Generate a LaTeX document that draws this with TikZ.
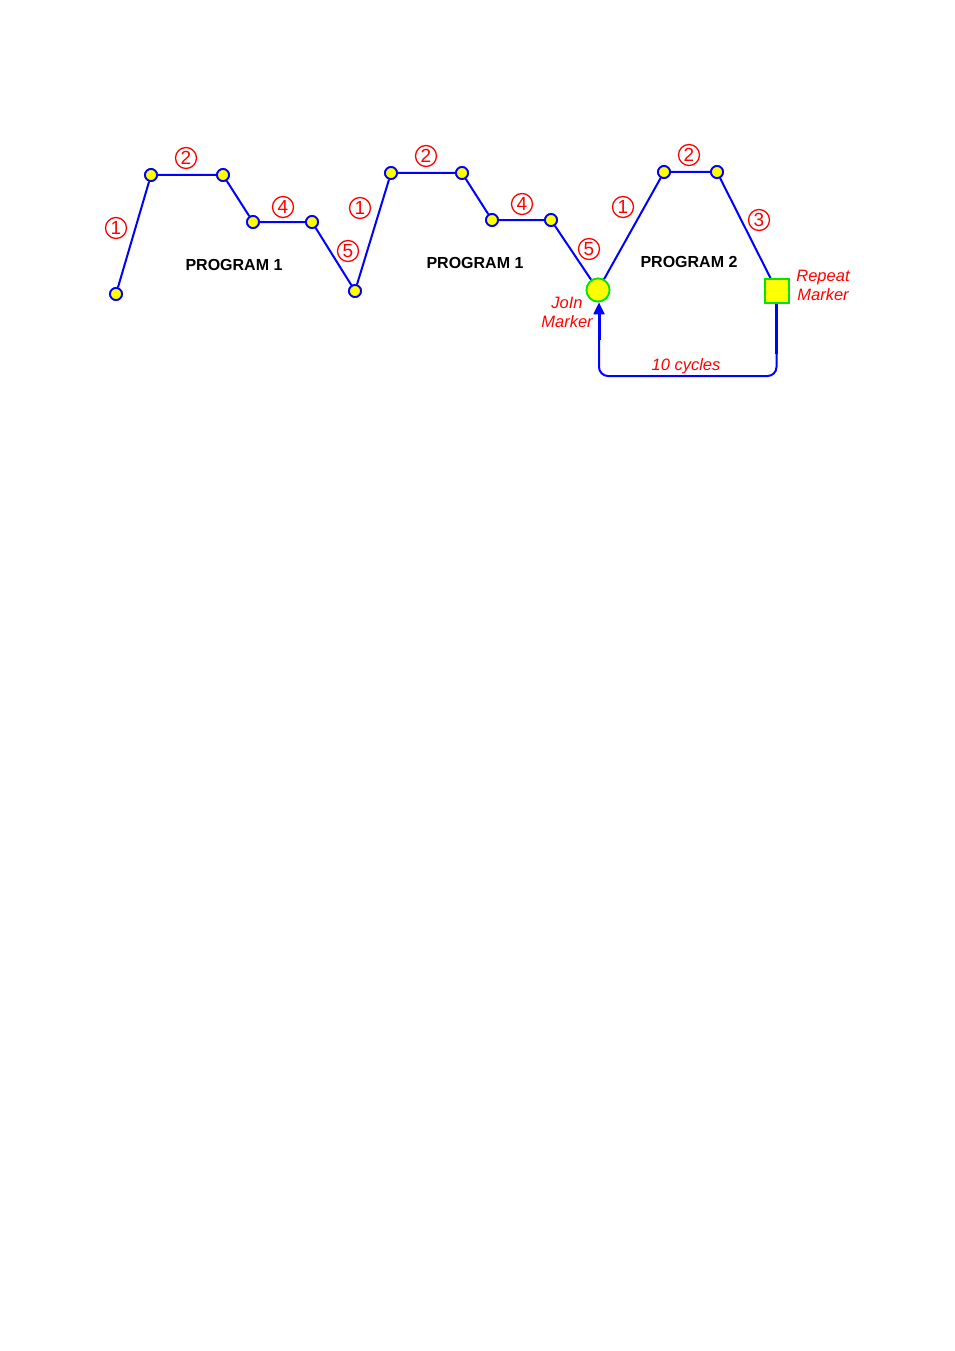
\documentclass[tikz,border=0pt]{standalone}
\usepackage{fontspec}
\setmainfont{Liberation Sans}
\usetikzlibrary{arrows.meta}
\definecolor{lblue}{RGB}{0,0,255}
\definecolor{lred}{RGB}{255,0,0}
\definecolor{lyellow}{RGB}{255,255,0}
\definecolor{lgreen}{RGB}{0,230,0}
\begin{document}
\begin{tikzpicture}[x=1pt,y=-1pt,
  pt/.style={circle,draw=lblue,fill=lyellow,line width=1.8pt,inner sep=0pt,minimum size=12pt},
  seg/.style={draw=lblue,line width=2pt},
  num/.style={circle,draw=lred,line width=1.3pt,text=lred,font=\fontsize{19}{19}\selectfont,inner sep=0pt,minimum size=21pt},
  prog/.style={font=\bfseries\fontsize{16}{16}\selectfont,inner sep=0pt},
  lab/.style={text=lred,font=\itshape\fontsize{16.5}{19}\selectfont,align=center,inner sep=0pt}]
\useasboundingbox (0,0) rectangle (954,1351);
% program 1 (first)
\node[pt] (a1) at (116,294) {};
\node[pt] (a2) at (151,175) {};
\node[pt] (a3) at (223,175) {};
\node[pt] (a4) at (253,222) {};
\node[pt] (a5) at (312,222) {};
\node[pt] (a6) at (355,291) {};
% program 1 (second)
\node[pt] (b2) at (391,173) {};
\node[pt] (b3) at (462,173) {};
\node[pt] (b4) at (492,220) {};
\node[pt] (b5) at (551,220) {};
% join marker
\node[circle,draw=lgreen,fill=lyellow,line width=1.7pt,inner sep=0pt,minimum size=23pt] (join) at (598,290) {};
% program 2
\node[pt] (c2) at (664,172) {};
\node[pt] (c3) at (717,172) {};
\node[rectangle,draw=lgreen,fill=lyellow,line width=1.7pt,inner sep=0pt,minimum size=24pt] (rep) at (777,291) {};
% segments
\draw[seg] (a1) -- (a2) -- (a3) -- (a4) -- (a5) -- (a6) -- (b2) -- (b3) -- (b4) -- (b5) -- (join) -- (c2) -- (c3) -- (rep);
% loop
\coordinate (r1) at (776.5,376);
\coordinate (l1) at (599,376);
\draw[draw=lblue,line width=2pt,rounded corners=9pt,-{Triangle[length=12pt,width=11pt]}] (rep.south -| r1) -- (r1) -- (l1) -- (join.south -| l1);
\draw[draw=lblue,line width=3pt] (rep.south -| r1) -- ++(0,50);
\draw[draw=lblue,line width=3pt] (599,340) -- (599,312);
% re-draw markers on top
\node[circle,draw=lgreen,fill=lyellow,line width=1.7pt,inner sep=0pt,minimum size=23pt] at (join) {};
\node[rectangle,draw=lgreen,fill=lyellow,line width=1.7pt,inner sep=0pt,minimum size=24pt] at (rep) {};
\foreach \n in {a1,a2,a3,a4,a5,a6,b2,b3,b4,b5,c2,c3} {\node[pt] at (\n) {};}
% circled numbers
\node[num] (n1) at (116,228) {1};
\node[num] (n2) at (186,158) {2};
\node[num] (n4) at (283,207) {4};
\node[num] (n5) at (348,251) {5};
\node[num] (m1) at (360,208) {1};
\node[num] (m2) at (426,156) {2};
\node[num] (m4) at (522,204) {4};
\node[num] (m5) at (589,249) {5};
\node[num] (k1) at (623,207) {1};
\node[num] (k2) at (689,155) {2};
\node[num] (k3) at (759,220) {3};
% program labels
\node[prog] (p1) at (234,265) {PROGRAM 1};
\node[prog] (p2) at (475,263) {PROGRAM 1};
\node[prog] (p3) at (689,262) {PROGRAM 2};
% marker labels
\node[lab] (jl) at (567,312) {JoIn\\Marker};
\node[lab] (rl) at (823,285) {Repeat\\Marker};
\node[lab] (cy) at (686,366) {10 cycles};
\end{tikzpicture}
\end{document}
